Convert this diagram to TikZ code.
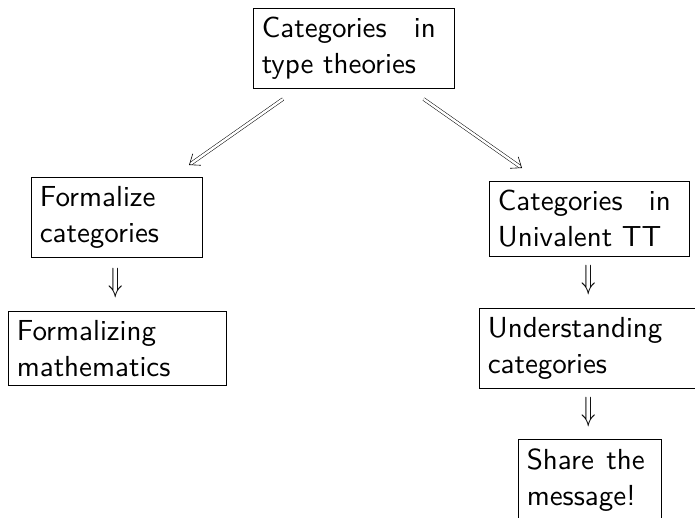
\documentclass[tikz,border=0pt]{standalone}
\usepackage{fontspec}
\newfontfamily\lmsten{lmsans10-regular}[Extension=.otf]
\usetikzlibrary{arrows.meta}
\begin{document}
\begin{tikzpicture}[x=1pt,y=-1pt,
  box/.style={draw, line width=0.6pt, anchor=north west, inner xsep=0pt, inner ysep=9pt,
    align=justify, font=\fontsize{29}{36}\selectfont\lmsten,
    execute at begin node={\hyphenpenalty=10000\exhyphenpenalty=10000\leftskip=8.5pt\rightskip=18.5pt\relax}},
  down/.style={inner sep=0pt, font=\fontsize{24.88}{25}\selectfont},
  dbl/.style={double, double distance=2.4pt, line width=0.5pt, shorten >=2.5pt},
  dtip/.style={white, line width=0.1pt, -{Straight Barb[length=9pt, width=14pt, line width=0.6pt, color=black]}}]
\useasboundingbox (0,0) rectangle (695,517);
\clip (0,0) rectangle (695,517);
\node[box, text width=201pt] (top) at (253,8) {Categories in type theories};
\node[box, text width=171pt] (fc) at (31,177) {Formalize categories};
\node[box, text width=218pt] (fm) at (8,311) {Formalizing mathematics};
\node[box, text width=200pt] (cu) at (489,181) {Categories in Univalent TT};
\node[box, text width=220pt] (uc) at (479,308) {Understanding categories};
\node[box, text width=143pt, execute at begin node={\hyphenpenalty=10000\leftskip=8.5pt\rightskip=16.5pt\relax}] (sm) at (518,439) {Share the message!};
\node[down] (d1) at (116,283) {\scalebox{0.95}[1.35]{$\Downarrow$}};
\node[down] (d2) at (589,280) {\scalebox{0.95}[1.35]{$\Downarrow$}};
\node[down] (d3) at (589,412) {\scalebox{0.95}[1.35]{$\Downarrow$}};
\coordinate (a1) at ([shift={(30pt,-10pt)}]top.south west);
\coordinate (b1) at ([shift={(158pt,12pt)}]fc.north west);
\coordinate (a2) at ([shift={(-31pt,-10pt)}]top.south east);
\coordinate (b2) at ([shift={(33pt,13pt)}]cu.north west);
\draw[dbl] (a1) -- (b1);
\draw[dtip] (a1) -- (b1);
\draw[dbl] (a2) -- (b2);
\draw[dtip] (a2) -- (b2);
\end{tikzpicture}
\end{document}
